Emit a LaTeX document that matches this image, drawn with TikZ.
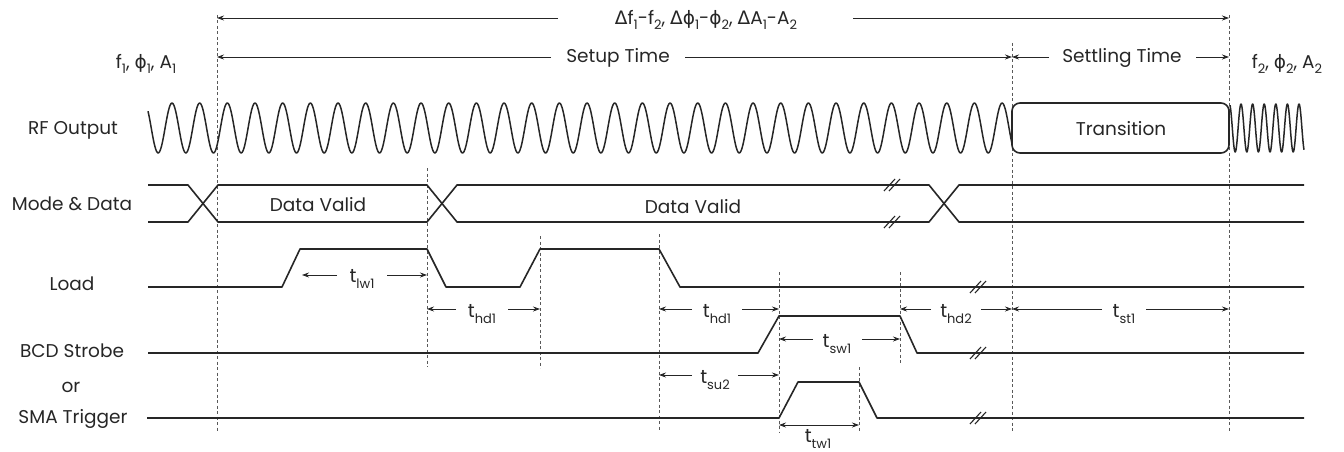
\documentclass[tikz,border=0pt]{standalone}
\usepackage{fontspec}
\setmainfont{Poppins}
\newfontfamily\grk{DejaVu Sans}
\usetikzlibrary{arrows.meta}
\newcommand{\gph}{{\grk ϕ}}
\newcommand{\gDl}{{\grk Δ}}
\newcommand{\sbs}[1]{\raisebox{-0.5ex}{\fontsize{13}{13}\selectfont #1}}
\newcommand{\tsb}[1]{t\raisebox{-0.5ex}{\fontsize{13}{13}\selectfont #1}}
\tikzset{
  sig/.style={line width=1.6pt, draw=black!85, line join=round},
  guide/.style={draw=black!65, line width=0.8pt, dash pattern=on 3pt off 2.5pt},
  dimarr/.style={draw=black!85, line width=0.8pt, -{Stealth[length=7pt,width=5pt]}},
  dimboth/.style={draw=black!85, line width=0.8pt, {Stealth[length=7pt,width=5pt]}-{Stealth[length=7pt,width=5pt]}},
  lbl/.style={font=\fontsize{18.5}{20}\selectfont, text=black!85, inner sep=0pt},
  tl/.style={font=\fontsize{19}{20}\selectfont, text=black!85, inner sep=0pt},
  brk/.style={draw=black!85, line width=1.1pt}
}
\begin{document}
\begin{tikzpicture}[x=1pt,y=-1pt]
\useasboundingbox (0,0) rectangle (1344,452);

% guide lines
\foreach \n/\x/\a/\b in {g1/217/15/432, g2/427/168/367, g3/540/236/368, g4/659/234/430,
                         g5/779/272/433, g6/900/272/365, g7/1012/43/432, g8/1229/15/432, g9/859/367/432}{
  \coordinate (\n t) at (\x,\a);
  \coordinate (\n b) at (\x,\b);
  \draw[guide] (\n t) -- (\n b);
}

% row labels
\node[lbl] (rf)   at (73,130) {RF Output};
\node[lbl] (md)   at (72,204) {Mode \& Data};
\node[lbl] (ld)   at (72,284) {Load};
\node[lbl] (bcd)  at (72,351) {BCD Strobe};
\node[lbl] (or)   at (71,387) {or};
\node[lbl] (sma)  at (73,419) {SMA Trigger};

\node[lbl] (st1) at (146,64) {f\sbs{1}, \gph\sbs{1}, A\sbs{1}};
\node[lbl] (st2) at (1287,64) {f\sbs{2}, \gph\sbs{2}, A\sbs{2}};

% top dimension
\node[lbl] (dtop) at (706,20) {\gDl f\sbs{1}-f\sbs{2}, \gDl\gph\sbs{1}-\gph\sbs{2}, \gDl A\sbs{1}-A\sbs{2}};
\coordinate (topL) at (217,18); \coordinate (topR) at (1229,18);
\coordinate (topGL) at (558,18); \coordinate (topGR) at (853,18);
\draw[dimarr] (topGL) -- (topL);
\draw[dimarr] (topGR) -- (topR);

% setup time
\node[lbl] (setup) at (618,58) {Setup Time};
\coordinate (suL) at (217,57); \coordinate (suR) at (1012,57);
\coordinate (suGL) at (551,57); \coordinate (suGR) at (685,57);
\draw[dimarr] (suGL) -- (suL);
\draw[dimarr] (suGR) -- (suR);

% settling time
\node[lbl] (settle) at (1122,58) {Settling Time};
\coordinate (seL) at (1012,57); \coordinate (seR) at (1229,57);
\coordinate (seGL) at (1049,57); \coordinate (seGR) at (1196,57);
\draw[dimarr] (seGL) -- (seL);
\draw[dimarr] (seGR) -- (seR);

% RF output
\draw[sig, line width=1.5pt] plot[domain=148:1012, samples=900, smooth] (\x, {128-25*cos(((\x-172)/27.67)*360)});
\draw[sig, line width=1.5pt] plot[domain=1230:1304, samples=200, smooth] (\x, {128-24*cos(((\x-1241)/11.6)*360)});
\draw[sig, fill=white, rounded corners=8pt] (1012,103) rectangle (1229,153);
\node[lbl] (trans) at (1121,129) {Transition};

% Mode & Data
\draw[sig] (148,185) -- (188,185) -- (218,222) -- (427,222) -- (457,185) -- (929,185) -- (959,222) -- (1304,222);
\draw[sig] (148,222) -- (188,222) -- (218,185) -- (427,185) -- (457,222) -- (929,222) -- (959,185) -- (1304,185);
\node[lbl] (dv1) at (318,205) {Data Valid};
\node[lbl] (dv2) at (693,207) {Data Valid};
\foreach \y in {185,222}{
  \draw[brk] (884,\y+6) -- (895,\y-6);
  \draw[brk] (889,\y+6) -- (900,\y-6);
}

% Load
\draw[sig] (148,287) -- (282,287) -- (300,249) -- (427,249) -- (446,287) -- (520,287) -- (540,249) -- (659,249) -- (680,287) -- (1304,287);
% BCD strobe
\draw[sig] (148,353) -- (758,353) -- (779,316) -- (900,316) -- (917,353) -- (1304,353);
% SMA trigger
\draw[sig] (147,418) -- (779,418) -- (798,382) -- (859,382) -- (877,418) -- (1304,418);
\foreach \y in {287,353,418}{
  \draw[brk] (970,\y+6) -- (981,\y-6);
  \draw[brk] (975,\y+6) -- (986,\y-6);
}

% timing dimensions
% t_lw1
\node[tl] (tlw) at (362,279) {\tsb{lw1}};
\coordinate (lwL) at (302,275); \coordinate (lwR) at (427,275);
\coordinate (lwGL) at (337,275); \coordinate (lwGR) at (387,275);
\draw[dimarr] (lwGL) -- (lwL);
\draw[dimarr] (lwGR) -- (lwR);
% t_hd1 (a)
\node[tl] (thda) at (482,314) {\tsb{hd1}};
\coordinate (haL) at (427,309); \coordinate (haR) at (540,309);
\coordinate (haGL) at (456,309); \coordinate (haGR) at (508,309);
\draw[dimarr] (haGL) -- (haL);
\draw[dimarr] (haGR) -- (haR);
% t_hd1 (b)
\node[tl] (thdb) at (717,314) {\tsb{hd1}};
\coordinate (hbL) at (659,309); \coordinate (hbR) at (779,309);
\coordinate (hbGL) at (692,309); \coordinate (hbGR) at (742,309);
\draw[dimarr] (hbGL) -- (hbL);
\draw[dimarr] (hbGR) -- (hbR);
% t_hd2
\node[tl] (thd2) at (956,314) {\tsb{hd2}};
\coordinate (h2L) at (900,309); \coordinate (h2R) at (1012,309);
\coordinate (h2GL) at (931,309); \coordinate (h2GR) at (981,309);
\draw[dimarr] (h2GL) -- (h2L);
\draw[dimarr] (h2GR) -- (h2R);
% t_st1
\node[tl] (tst) at (1124,314) {\tsb{st1}};
\coordinate (stL) at (1012,309); \coordinate (stR) at (1229,309);
\coordinate (stGL) at (1102,309); \coordinate (stGR) at (1146,309);
\draw[dimarr] (stGL) -- (stL);
\draw[dimarr] (stGR) -- (stR);
% t_sw1
\node[tl] (tsw) at (837,344) {\tsb{sw1}};
\coordinate (swL) at (779,339); \coordinate (swR) at (900,339);
\coordinate (swGL) at (813,339); \coordinate (swGR) at (862,339);
\draw[dimarr] (swGL) -- (swL);
\draw[dimarr] (swGR) -- (swR);
% t_su2
\node[tl] (tsu) at (715,380) {\tsb{su2}};
\coordinate (suaL) at (659,375); \coordinate (suaR) at (779,375);
\coordinate (suaGL) at (692,375); \coordinate (suaGR) at (738,375);
\draw[dimarr] (suaGL) -- (suaL);
\draw[dimarr] (suaGR) -- (suaR);
% t_tw1
\node[tl] (ttw) at (818,439) {\tsb{tw1}};
\coordinate (twL) at (779,425); \coordinate (twR) at (859,425);
\draw[dimboth] (twL) -- (twR);
\end{tikzpicture}
\end{document}
